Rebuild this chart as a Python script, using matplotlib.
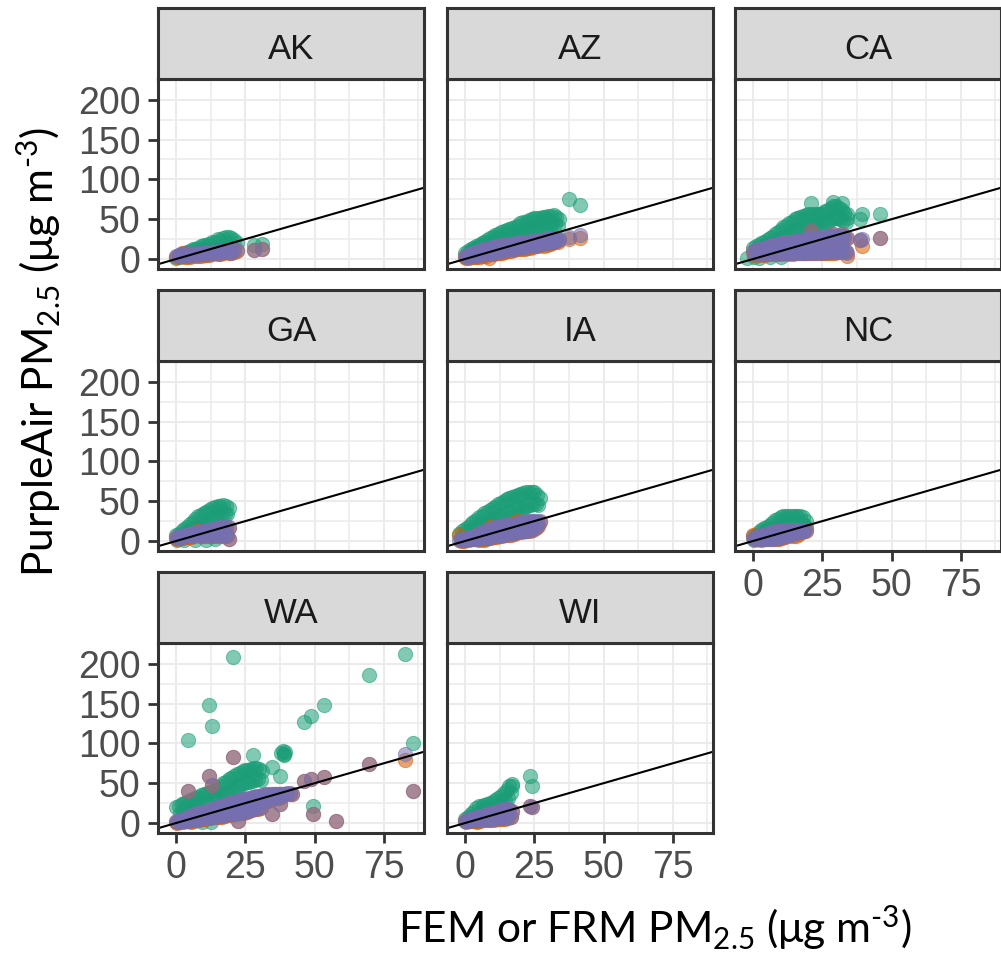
import numpy as np
import matplotlib
matplotlib.use("Agg")
import matplotlib.pyplot as plt
from matplotlib.ticker import FixedLocator

nan = np.nan

# ---------------- data (FEM/FRM x, raw PurpleAir = green, correction A = orange, correction B = purple)
STATES = ["AK", "AZ", "CA", "GA", "IA", "NC", "WA", "WI"]

AK_fem = [0, 1, 2, 3, 4, 5, 6, 7, 8, 9, 10, 11, 12, 13, 14, 15, 16, 17, 18, 19, 20, 21, 22, 1, 4, 8, 12, 16, 20, 28, 31, 2, 10]
AK_raw = [1, 4, 6, 8, 9, 10, 12, 13, 14, 16, 17, 18, 19, 21, 22, 25, 24, 27, 28, 28, 26, 24, 20, 2, 5, 8, 11, 14, 16, 18, 19, 4, 12]
AK_a = [3, 4, 4, 3, 5, 3, 5, 4, 6, 4, 6, 5, 7, 6, 7, 6, 8, 7, 9, 8, 10, 9, 10, 4, 3, 4, 5, 6, 7, 11, 12, 8, 5]
AK_b = [4, 5, 6, 5, 7, 4, 6, 7, 6, 8, 7, 9, 8, 9, 8, 10, 9, 10, 9, 11, 10, 12, 11, 5, 4, 5, 6, 7, 8, 11, 12, 4, 7]

AZ_fem = [0, 1, 2, 3, 4, 5, 6, 7, 8, 9, 10, 11, 12, 13, 14, 15, 16, 17, 18, 19, 20, 21, 22, 23, 24, 25, 26, 27, 28, 29, 30, 31, 32, 33, 34,
          0.5, 1.5, 2.5, 3.5, 4.5, 5.5, 6.5, 7.5, 8.5, 9.5, 10.5, 11.5, 12.5, 13.5, 14.5, 15.5, 16.5, 17.5, 18.5, 19.5, 20.5, 21.5, 22.5, 23.5, 24.5, 25.5, 26.5, 27.5, 28.5, 29.5, 30.5, 31.5, 32.5, 33.5,
          37.5, 41.5]
AZ_raw = [8, 10, 12, 14, 16, 18, 20, 22, 24, 26, 28, 30, 32, 34, 35, 36, 38, 39, 40, 42, 45, 46, 47, 49, 50, 51, 52, 52, 53, 53, 54, 54, 55, 53, 50,
          2, 8, 10, 12, 14, 15, 17, 18, 20, 21, 23, 24, 26, 27, 28, 29, 30, 31, 32, 33, 34, 35, 36, 37, 38, 39, 40, 41, 42, 42, 43, 44, 44, 42,
          75, 68]
AZ_a = [3, 4, 5, 6, 8, 9, 10, 11, 12, 13, 14, 15, 15, 16, 17, 17, 18, 18, 19, 19, 20, 20, 21, 21, 22, 22, 23, 23, 23, 24, 24, 24, 24, 24, 24,
        1, 1, 2, 2, 3, 3, 4, 4, 1, 6, 6, 7, 8, 8, 9, 10, 10, 11, 12, 12, 13, 13, 14, 14, 15, 16, 16, 17, 16, 18, 19, 20, 21, 22,
        25, 26]
AZ_b = [4, 5, 6, 7, 9, 10, 11, 12, 13, 14, 15, 16, 16, 17, 18, 18, 19, 19, 20, 20, 21, 21, 22, 22, 23, 23, 24, 24, 24, 25, 25, 25, 25, 25, 25,
        3, 3, 4, 4, 5, 5, 6, 6, 7, 8, 8, 9, 10, 10, 11, 12, 12, 13, 14, 14, 15, 15, 16, 16, 17, 18, 18, 19, 20, 20, 21, 22, 23, 24,
        28, 30]

CA_fem = [0, 1, 2, 3, 4, 5, 6, 7, 8, 9, 10, 11, 12, 13, 14, 15, 16, 17, 18, 19, 20, 21, 22, 23, 24, 25, 26, 27, 28, 29, 30, 31, 32, 33, 34,
          0.5, 1.5, 2.5, 3.5, 4.5, 5.5, 6.5, 7.5, 8.5, 9.5, 10.5, 11.5, 12.5, 13.5, 14.5, 15.5, 16.5, 17.5, 18.5, 19.5, 20.5, 21.5, 22.5, 23.5, 24.5, 25.5, 26.5, 27.5, 28.5, 29.5, 30.5, 31.5, 32.5, 33.5,
          10, 12, 14, 16, 18, 20, 22, 24, 26, 28, 30, 32,
          -2, 2, 6, 10,
          21, 29, 32, 33.8, 39.5, 45.8, 38.5]
CA_raw = [14, 16, 18, 20, 22, 24, 26, 28, 31, 34, 37, 40, 42, 45, 47, 50, 52, 53, 54, 55, 56, 56, 56, 56, 57, 58, 60, 62, 64, 66, 66, 64, 62, 58, 56,
          2, 9, 11, 13, 15, 17, 18, 20, 22, 24, 26, 28, 30, 32, 34, 36, 37, 38, 39, 40, 41, 42, 43, 44, 45, 46, 47, 48, 50, 52, 52, 50, 48, 46,
          nan, nan, nan, nan, nan, nan, nan, nan, nan, nan, nan, nan,
          1, 1, 2, 2,
          70, 72, 70, 52, 57, 57, 50]
CA_a = [9, 10, 11, 12, 13, 14, 15, 16, 17, 18, 19, 20, 20, 21, 21, 22, 22, 23, 23, 24, 24, 25, 25, 26, 26, 27, 27, 28, 28, 28, 28, 28, 28, 27, 26,
        5, 6, 5, 6, 5, 6, 6, 6, 6, 7, 6, 7, 6, 7, 6, 7, 7, 7, 7, 7, 7, 8, 7, 8, 7, 8, 8, 8, 8, 8, 9, 9, 9, 9,
        12, 13, 14, 14, 15, 15, 16, 16, 17, 17, 18, 18,
        nan, nan, nan, nan,
        35, 31, 32, 4, 16, 26, 24]
CA_b = [10, 11, 12, 13, 14, 15, 16, 17, 18, 19, 20, 21, 21, 22, 22, 23, 23, 24, 24, 25, 25, 26, 26, 27, 27, 28, 28, 29, 29, 29, 29, 29, 29, 28, 27,
        6, 7, 6, 7, 6, 7, 7, 7, 7, 8, 7, 8, 7, 8, 7, 8, 8, 8, 8, 8, 8, 9, 8, 9, 8, 9, 9, 9, 9, 9, 10, 10, 10, 10,
        13, 14, 15, 15, 16, 16, 17, 17, 18, 18, 19, 19,
        nan, nan, nan, nan,
        35, 31, 32, 8, 25, 26, 24]

GA_fem = [0, 1, 2, 3, 4, 5, 6, 7, 8, 9, 10, 11, 12, 13, 14, 15, 16, 17, 18, 19,
          0.5, 1.5, 2.5, 3.5, 4.5, 5.5, 6.5, 7.5, 8.5, 9.5, 10.5, 11.5, 12.5, 13.5, 14.5, 15.5, 16.5, 17.5, 18.5,
          3, 7, 11, 14, 19]
GA_raw = [7, 9, 12, 15, 18, 21, 24, 28, 31, 33, 35, 37, 39, 41, 43, 44, 44, 45, 44, 42,
          1, 5, 8, 10, 12, 14, 16, 18, 20, 22, 24, 25, 27, 29, 30, 32, 33, 34, 34,
          1, 1, 1, 2, nan]
GA_a = [4, 4, 5, 6, 7, 8, 9, 10, 10, 11, 12, 13, 13, 14, 15, 15, 16, 16, 16, 16,
        3, 4, 4, 5, 5, 5, 6, 12, 6, 6, 6, 6, 6, 6, 6, 6, 6, 6, 6,
        nan, nan, nan, nan, 3]
GA_b = [5, 5, 6, 7, 8, 9, 10, 11, 11, 12, 13, 14, 14, 15, 16, 16, 17, 17, 17, 17,
        4, 5, 5, 6, 6, 6, 7, 7, 7, 7, 7, 7, 7, 7, 7, 7, 7, 7, 7,
        nan, nan, nan, nan, 3]

IA_fem = [-2, -1, 0, 1, 2, 3, 4, 5, 6, 7, 8, 9, 10, 11, 12, 13, 14, 15, 16, 17, 18, 19, 20, 21, 22, 23, 24, 25, 26, 27,
          -1.5, -0.5, 0.5, 1.5, 2.5, 3.5, 4.5, 5.5, 6.5, 7.5, 8.5, 9.5, 10.5, 11.5, 12.5, 13.5, 14.5, 15.5, 16.5, 17.5, 18.5, 19.5, 20.5, 21.5, 22.5, 23.5, 24.5, 25.5, 26.5,
          5, 7]
IA_raw = [9, 12, 15, 18, 21, 24, 27, 30, 32, 35, 37, 39, 41, 43, 46, 48, 50, 53, 54, 55, 56, 58, 59, 60, 61, 62, 62, 61, 58, 54,
          4, 7, 10, 12, 14, 16, 18, 20, 21, 23, 24, 26, 27, 29, 31, 32, 34, 36, 37, 38, 40, 41, 42, 43, 44, 45, 46, 46, 45,
          1, 1]
IA_a = [7, 1, 2, 3, 4, 5, 7, 8, 10, 11, 13, 17, 15, 16, 17, 18, 19, 19, 20, 22, 24, 25, 23, 23, 24, 24, 24, 24, 24, 24,
        0, 0, 1, 1, 2, 2, 2, 3, 3, 3, 4, 4, 5, 5, 6, 6, 7, 8, 8, 9, 10, 11, 11, 12, 12, 13, 14, 16, 19,
        nan, nan]
IA_b = [1, 2, 3, 4, 5, 6, 8, 9, 11, 12, 14, 15, 16, 17, 18, 19, 20, 20, 21, 22, 22, 23, 24, 24, 25, 25, 25, 25, 25, 25,
        1, 1, 2, 2, 3, 3, 3, 4, 4, 4, 5, 5, 6, 6, 7, 7, 8, 9, 9, 10, 11, 12, 12, 13, 13, 14, 15, 17, 20,
        nan, nan]

NC_fem = [0, 1, 2, 3, 4, 5, 6, 7, 8, 9, 10, 11, 12, 13, 14, 15, 16, 17, 18, 19,
          0.5, 1.5, 2.5, 3.5, 4.5, 5.5, 6.5, 7.5, 8.5, 9.5, 10.5, 11.5, 12.5, 13.5, 14.5, 15.5, 16.5, 17.5, 18.5,
          3, 19]
NC_raw = [6, 8, 11, 14, 16, 18, 20, 23, 26, 28, 30, 31, 32, 32, 32, 32, 31, 31, 30, 25,
          1, 6, 8, 10, 12, 13, 15, 16, 18, 19, 20, 21, 22, 22, 23, 23, 23, 23, 20,
          1, 18]
NC_a = [7, 4, 5, 6, 7, 8, 9, 10, 11, 12, 12, 13, 13, 13, 13, 13, 13, 13, 13, 13,
        2, 2, 2, 2, 2, 2, 2, 2, 3, 3, 4, 5, 6, 7, 6, 6, 9, 11, 12,
        nan, nan]
NC_b = [4, 5, 6, 7, 8, 9, 10, 11, 12, 13, 13, 14, 14, 14, 14, 14, 14, 14, 14, 14,
        3, 3, 3, 3, 3, 3, 3, 3, 4, 4, 5, 6, 7, 8, 9, 10, 11, 12, 13,
        nan, nan]

WA_fem = [0, 1, 2, 3, 4, 5, 6, 7, 8, 9, 10, 11, 12, 13, 14, 15, 16, 17, 18, 19, 20, 21, 22, 23, 24, 25, 26, 27, 28, 29, 30, 31,
          0.5, 1.5, 2.5, 3.5, 4.5, 5.5, 6.5, 7.5, 8.5, 9.5, 10.5, 11.5, 12.5, 13.5, 14.5, 15.5, 16.5, 17.5, 18.5, 19.5, 20.5, 21.5, 22.5, 23.5, 24.5, 25.5, 26.5, 27.5, 28.5, 29.5, 30.5,
          14, 16, 18, 20, 22, 24, 26, 28, 30,
          32, 33, 34, 35, 36, 37, 38, 39, 40, 41, 42,
          32, 33, 34, 35, 36, 37, 38,
          38, 38.5, 39, 39.5, 38.8,
          20.4, 82.6, 69.7, 12.0, 53.5, 48.6, 46.2, 13.1, 4.4, 85.6, 49.5, 34.5, 37.5, 22.5, 57.7, 27.9]
WA_raw = [20, 22, 24, 25, 27, 29, 30, 32, 33, 35, 36, 37, 39, 40, 42, 44, 47, 50, 52, 55, 57, 59, 61, 63, 65, 66, 67, 68, 69, 69, 68, 65,
          1, 12, 14, 15, 17, 1, 20, 21, 22, 1, 25, 26, 1, 29, 30, 32, 34, 36, 38, 40, 42, 44, 46, 48, 50, 51, 52, 53, 54, 55, 54,
          nan, nan, nan, nan, nan, nan, nan, nan, nan,
          nan, nan, nan, nan, nan, nan, nan, nan, nan, nan, nan,
          nan, nan, nan, nan, nan, nan, nan,
          88, 90, 87, 89, 85,
          208, 212.6, 186, 148, 148, 134, 126.6, 122, 104, 100.6, 21.8, 70, 59.5, nan, nan, 86]
WA_a = [1, 2, 3, 4, 6, 7, 9, 10, 11, 12, 13, 14, 15, 16, 18, 19, 20, 21, 23, 24, 25, 26, 27, 28, 29, 29, 30, 31, 32, 33, 33, 34,
        0, 1, 1, 2, 2, 3, 3, 4, 4, 5, 5, 6, 6, 7, 7, 8, 8, 9, 10, 10, 11, 11, 12, 12, 13, 14, 15, 16, 17, 18, 19,
        12, 14, 16, 18, 19, 21, 22, 24, 26,
        35, 35, 35, 36, 36, 36, 36, 36, 37, 37, 36,
        26, 28, 29, 30, 31, 32, 33,
        nan, nan, nan, nan, nan,
        82.6, 79, 74, 59.5, 57.5, 55, 53, 48, 40.6, 40.6, 11, 11, 24, 3, 3, 33]
WA_b = [2, 3, 4, 5, 7, 8, 10, 11, 12, 13, 14, 15, 16, 17, 19, 20, 21, 22, 24, 25, 26, 27, 28, 29, 30, 30, 31, 32, 33, 34, 34, 35,
        1, 2, 2, 3, 3, 4, 4, 5, 5, 6, 6, 7, 7, 8, 8, 9, 9, 10, 11, 11, 12, 12, 13, 13, 14, 15, 16, 17, 18, 19, 20,
        13, 15, 17, 19, 20, 22, 23, 25, 27,
        36, 36, 36, 37, 37, 37, 37, 37, 38, 38, 37,
        27, 29, 30, 31, 32, 33, 34,
        nan, nan, nan, nan, nan,
        82.6, 86.7, 74, 59.5, 57.5, 55, 53, 48, 40.6, 40.6, 11, 11, 24, 3, 3, 33]

WI_fem = [0, 1, 2, 3, 4, 5, 6, 7, 8, 9, 10, 11, 12, 13, 14, 15, 16, 17,
          0.5, 1.5, 2.5, 3.5, 4.5, 5.5, 6.5, 7.5, 8.5, 9.5, 10.5, 11.5, 12.5, 13.5, 14.5, 15.5, 16.5,
          23.4, 24, 16.8]
WI_raw = [5, 8, 11, 14, 19, 21, 22, 23, 24, 25, 27, 29, 31, 34, 38, 42, 46, 47,
          1, 3, 7, 9, 1, 13, 15, 16, 17, 18, 19, 21, 23, 26, 29, 32, 38,
          59.5, 46, 49]
WI_a = [2, 3, 4, 5, 6, 7, 8, 9, 10, 11, 12, 13, 14, 15, 16, 16, 16, 14,
        2, 2, 3, 3, 3, 3, 4, 4, 4, 4, 4, 5, 5, 5, 5, 6, 7,
        21.8, 20, nan]
WI_b = [3, 4, 5, 6, 7, 8, 9, 10, 11, 12, 13, 14, 15, 16, 17, 17, 17, 15,
        3, 3, 4, 4, 4, 4, 5, 5, 5, 5, 5, 6, 6, 6, 6, 7, 8,
        21.8, 20, nan]

X_TICKS = [0, 25, 50, 75]
Y_TICKS = [0, 50, 100, 150, 200]

DATA = {
    "AK": (AK_fem, AK_raw, AK_a, AK_b),
    "AZ": (AZ_fem, AZ_raw, AZ_a, AZ_b),
    "CA": (CA_fem, CA_raw, CA_a, CA_b),
    "GA": (GA_fem, GA_raw, GA_a, GA_b),
    "IA": (IA_fem, IA_raw, IA_a, IA_b),
    "NC": (NC_fem, NC_raw, NC_a, NC_b),
    "WA": (WA_fem, WA_raw, WA_a, WA_b),
    "WI": (WI_fem, WI_raw, WI_a, WI_b),
}

GREEN, ORANGE, PURPLE = "#1B9E77", "#D95F02", "#7570B3"

# ---------------- figure
W, H = 1001, 957
fig = plt.figure(figsize=(W / 100, H / 100), dpi=100)

plt.rcParams["mathtext.fontset"] = "custom"
plt.rcParams["mathtext.rm"] = "Lato"
plt.rcParams["mathtext.it"] = "Lato:italic"
plt.rcParams["mathtext.bf"] = "Lato:bold"


def rect(l, t, w, h):
    return [l / W, 1 - (t + h) / H, w / W, h / H]


col_left = [158, 447, 735]
col_w = 266
row_top = [8, 290, 572]
strip_h = 71
panel_h = 190

TICK_FONT = dict(family="Liberation Sans", size=27)
BORDER = "#333333"

for i, st in enumerate(STATES):
    r, c = divmod(i, 3)
    cl, rt = col_left[c], row_top[r]
    fem, raw, ca, cb = DATA[st]

    ax = fig.add_axes(rect(cl, rt + strip_h, col_w, panel_h))
    ax.set_xlim(-6.5, 89.5)
    ax.set_ylim(-12.5, 226)
    ax.set_axisbelow(True)
    ax.xaxis.set_major_locator(FixedLocator(X_TICKS))
    ax.xaxis.set_minor_locator(FixedLocator([12.5, 37.5, 62.5, 87.5]))
    ax.yaxis.set_major_locator(FixedLocator(Y_TICKS))
    ax.yaxis.set_minor_locator(FixedLocator([25, 75, 125, 175]))
    ax.grid(which="major", color="#EBEBEB", lw=1.5)
    ax.grid(which="minor", color="#EBEBEB", lw=1.1)
    ax.tick_params(which="minor", length=0)

    for vals, col in [(raw, GREEN), (ca, ORANGE), (cb, PURPLE)]:
        ax.scatter(fem, vals, s=105, c=col, alpha=0.55, linewidths=0.75,
                   edgecolors=col, zorder=2)
    ax.axline((0, 0), slope=1, color="black", lw=1.5, zorder=3)

    for s in ax.spines.values():
        s.set_color(BORDER)
        s.set_linewidth(2.2)
        s.set_zorder(5)

    left_col = c == 0
    bottom = st in ("WA", "WI", "NC")
    ax.tick_params(axis="y", which="major", length=7 if left_col else 0, width=2,
                   color=BORDER, pad=5.5, labelleft=left_col,
                   labelsize=TICK_FONT["size"], labelcolor="#4D4D4D")
    ax.tick_params(axis="x", which="major", length=7 if bottom else 0, width=2,
                   color=BORDER, pad=5, labelbottom=bottom,
                   labelsize=TICK_FONT["size"], labelcolor="#4D4D4D")
    for lab in ax.get_xticklabels() + ax.get_yticklabels():
        lab.set_family(TICK_FONT["family"])

    sax = fig.add_axes(rect(cl, rt, col_w, strip_h))
    sax.set_facecolor("#D9D9D9")
    sax.set_xticks([])
    sax.set_yticks([])
    for s in sax.spines.values():
        s.set_color(BORDER)
        s.set_linewidth(2.2)
    sax.text(0.5, 0.28, st, ha="center", va="baseline", fontsize=25,
             color="#1A1A1A", family="Liberation Sans", transform=sax.transAxes)

fig.text(655 / W, 1 - 928 / H,
         r"FEM or FRM PM$_{\mathregular{2.5}}$ (μg m$^{\text{-3}}$)",
         ha="center", va="center", fontsize=30.5, family=["Lato", "DejaVu Sans"])
fig.text(39 / W, 1 - 352 / H,
         r"PurpleAir PM$_{\mathregular{2.5}}$ (μg m$^{\text{-3}}$)",
         ha="center", va="center", rotation=90, fontsize=30.5,
         family=["Lato", "DejaVu Sans"])

fig.savefig("out.png", dpi=100)
